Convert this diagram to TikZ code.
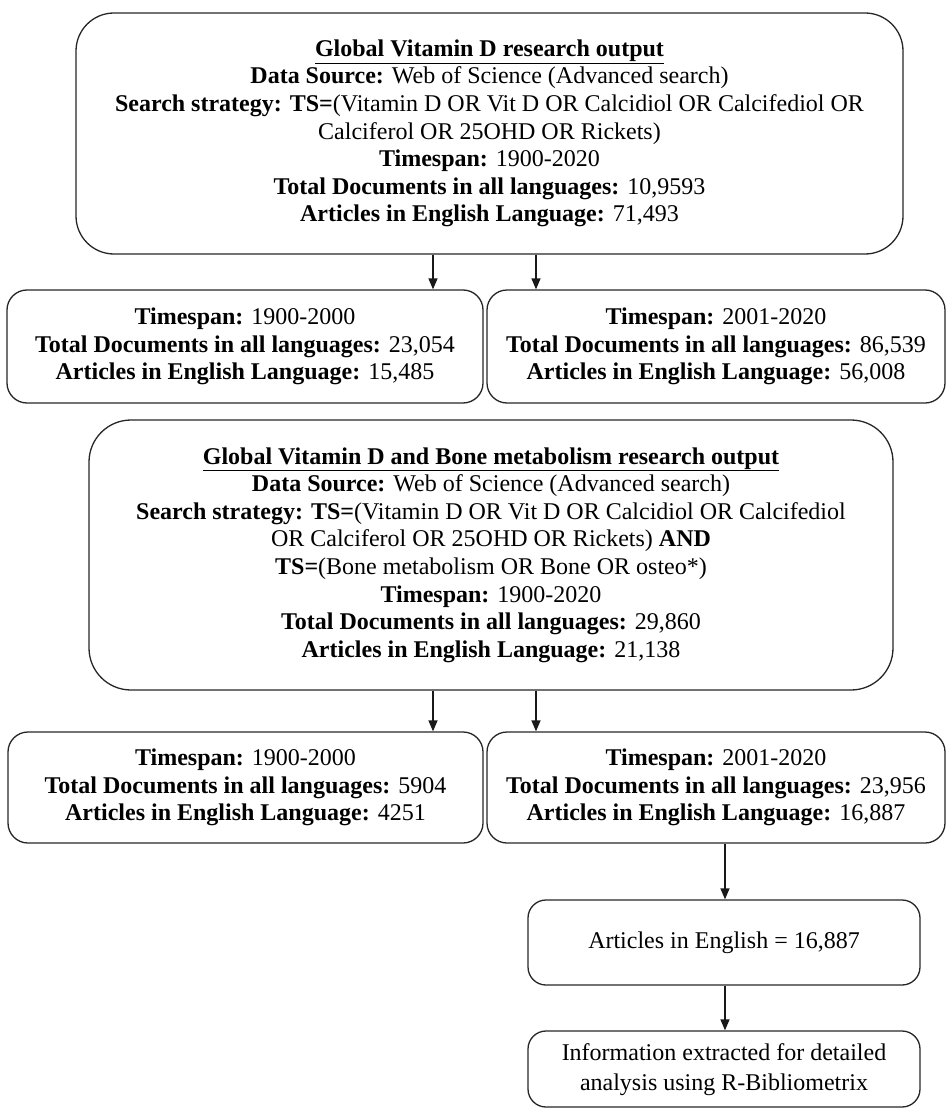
\documentclass[tikz,border=0pt]{standalone}
\usepackage{fontspec}
\setmainfont{Liberation Serif}
\usetikzlibrary{arrows.meta}
\begin{document}
\begin{tikzpicture}[x=1pt,y=-1pt,
  box/.style={draw=black!85, line width=1.3pt, align=center, inner sep=0pt,
    font=\fontsize{24}{27.6}\selectfont},
  bigbox/.style={box, rounded corners=38pt},
  smallbox/.style={box, rounded corners=20pt},
  arr/.style={draw=black!90, line width=1.3pt, -{Triangle[length=11pt,width=9pt]}}]
\useasboundingbox (0,0) rectangle (947,1110);

\node[bigbox, minimum width=827pt, minimum height=241pt] (b1) at (489.5,133.5)
 {\underline{\textbf{Global Vitamin D research output}}\\
  \textbf{Data Source:} Web of Science (Advanced search)\\
  \textbf{Search strategy: TS=}(Vitamin D OR Vit D OR Calcidiol OR Calcifediol OR\\
  Calciferol OR 25OHD OR Rickets)\\
  \textbf{Timespan:} 1900-2020\\
  \textbf{Total Documents in all languages:} 10,9593\\
  \textbf{Articles in English Language:} 71,493};

\node[smallbox, minimum width=476pt, minimum height=113pt] (b2a) at (245,346.5)
 {\textbf{Timespan:} 1900-2000\\
  \textbf{Total Documents in all languages:} 23,054\\
  \textbf{Articles in English Language:} 15,485};

\node[smallbox, minimum width=458pt, minimum height=113pt] (b2b) at (716,346.5)
 {\textbf{Timespan:} 2001-2020\\
  \textbf{Total Documents in all languages:} 86,539\\
  \textbf{Articles in English Language:} 56,008};

\node[bigbox, rounded corners=42pt, minimum width=804pt, minimum height=270pt] (b3) at (491,555)
 {\underline{\textbf{Global Vitamin D and Bone metabolism research output}}\\
  \textbf{Data Source:} Web of Science (Advanced search)\\
  \textbf{Search strategy: TS=}(Vitamin D OR Vit D OR Calcidiol OR Calcifediol\\
  OR Calciferol OR 25OHD OR Rickets) \textbf{AND}\\
  \textbf{TS=}(Bone metabolism OR Bone OR osteo*)\\
  \textbf{Timespan:} 1900-2020\\
  \textbf{Total Documents in all languages:} 29,860\\
  \textbf{Articles in English Language:} 21,138};

\node[smallbox, minimum width=475pt, minimum height=111pt] (b4a) at (245.5,787.5)
 {\textbf{Timespan:} 1900-2000\\
  \textbf{Total Documents in all languages:} 5904\\
  \textbf{Articles in English Language:} 4251};

\node[smallbox, minimum width=458pt, minimum height=111pt] (b4b) at (716,787.5)
 {\textbf{Timespan:} 2001-2020\\
  \textbf{Total Documents in all languages:} 23,956\\
  \textbf{Articles in English Language:} 16,887};

\node[smallbox, rounded corners=18pt, minimum width=392pt, minimum height=85pt] (b5) at (724,942.5)
 {Articles in English = 16,887};

\node[smallbox, rounded corners=18pt, minimum width=392pt, minimum height=76pt,
      font=\fontsize{24}{30}\selectfont, text depth=4pt] (b6) at (724,1069)
 {Information extracted for detailed\\analysis using R-Bibliometrix};

\coordinate (xa) at (433,0);
\coordinate (xb) at (536,0);
\coordinate (xc) at (725,0);

\draw[arr] (b1.south -| xa) -- (b2a.north -| xa);
\draw[arr] (b1.south -| xb) -- (b2b.north -| xb);
\draw[arr] (b3.south -| xa) -- (b4a.north -| xa);
\draw[arr] (b3.south -| xb) -- (b4b.north -| xb);
\draw[arr] (b4b.south -| xc) -- (b5.north -| xc);
\draw[arr] (b5.south -| xc) -- (b6.north -| xc);
\end{tikzpicture}
\end{document}
